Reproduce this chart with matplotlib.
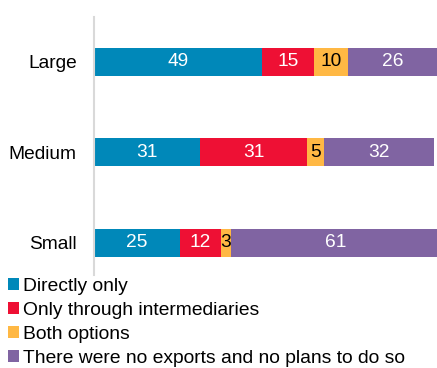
import matplotlib
matplotlib.use("Agg")
import matplotlib.pyplot as plt
from matplotlib.patches import Patch

plt.rcParams['font.family'] = ['Liberation Sans', 'DejaVu Sans']

categories = ["Small", "Medium", "Large"]
series_names = ["Directly only", "Only through intermediaries", "Both options",
                "There were no exports and no plans to do so"]
directly = [25, 31, 49]
intermediaries = [12, 31, 15]
both = [3, 5, 10]
no_exports = [61, 32, 26]

colors = ["#0088B9", "#EE1034", "#FFB844", "#8064A2"]
label_colors = ["white", "white", "black", "white"]

W, H = 437, 368
fig = plt.figure(figsize=(W / 100, H / 100), dpi=100)
ax = fig.add_axes([94 / W, 1 - 275 / H, (W - 94) / W, (275 - 17) / H])

series = [directly, intermediaries, both, no_exports]
ypos = list(range(len(categories)))
left = [0] * len(categories)
for vals, col, lcol in zip(series, colors, label_colors):
    bars = ax.barh(ypos, vals, left=left, height=0.31, color=col, linewidth=0)
    for b, v, l in zip(bars, vals, left):
        ax.text(l + v / 2, b.get_y() + b.get_height() / 2, str(v),
                ha="center", va="center", color=lcol, fontsize=13.8)
    left = [a + b for a, b in zip(left, vals)]

ax.set_xlim(0, 100)
ax.set_ylim(-0.354, 2.497)
ax.set_yticks(ypos)
ax.set_yticklabels(categories, fontsize=13.8)
ax.tick_params(axis="y", length=0, pad=12.5)
ax.set_xticks([])
for s in ["top", "right", "bottom"]:
    ax.spines[s].set_visible(False)
ax.spines["left"].set_color("#D9D9D9")
ax.spines["left"].set_linewidth(1.5)

handles = [Patch(facecolor=c, edgecolor="none") for c in colors]
fig.legend(handles, series_names, loc="upper left",
           bbox_to_anchor=(8 / W, 1 - 278 / H), frameon=False,
           fontsize=13.9, handlelength=0.55, handleheight=0.55,
           handletextpad=0.25, labelspacing=0.36, borderaxespad=0,
           borderpad=0)

fig.savefig("out.png", dpi=100)
